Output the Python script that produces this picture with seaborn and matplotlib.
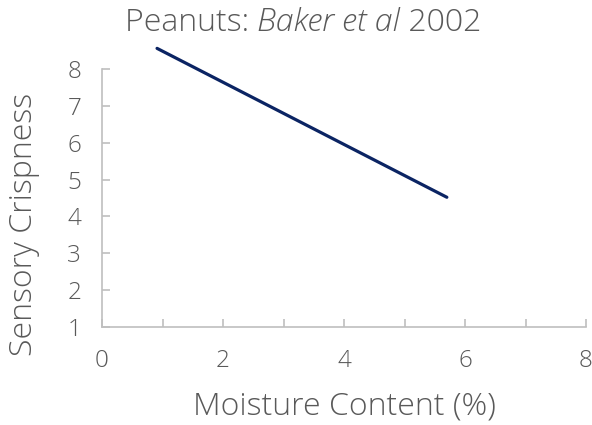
import matplotlib
matplotlib.use("Agg")
import matplotlib.pyplot as plt
from matplotlib.ticker import MultipleLocator
import seaborn as sns
import pandas as pd

# Fitted crispness trend against moisture content
moisture = [0.91, 5.70]
crispness = [8.56, 4.52]

x_ticks = [0, 2, 4, 6, 8]
y_ticks = [1, 2, 3, 4, 5, 6, 7, 8]

title_plain = "Peanuts: "
title_italic = "Baker et al"
title_year = " 2002"
x_label = "Moisture Content (%)"
y_label = "Sensory Crispness"

sns.set_style("white")
plt.rcParams["font.family"] = ["Open Sans", "DejaVu Sans"]
plt.rcParams["font.weight"] = "light"

text_color = "#595959"
axis_color = "#BFBFBF"
line_color = "#0B2463"

W, H = 592, 425
fig = plt.figure(figsize=(W / 100, H / 100), dpi=100)
ax = fig.add_axes([102 / W, 1 - 327 / H, (586 - 102) / W, (327 - 69) / H])

df = pd.DataFrame({"moisture": moisture, "crispness": crispness})
sns.lineplot(data=df, x="moisture", y="crispness", ax=ax, color=line_color,
             linewidth=2.3, clip_on=False)

ax.set_xlim(0, 8)
ax.set_ylim(1, 8)
ax.set_xticks(x_ticks)
ax.xaxis.set_minor_locator(MultipleLocator(1))
ax.set_yticks(y_ticks)

for side in ["top", "right"]:
    ax.spines[side].set_visible(False)
for side in ["left", "bottom"]:
    ax.spines[side].set_color(axis_color)
    ax.spines[side].set_linewidth(1.2)

ax.tick_params(axis="both", which="both", direction="in", color=axis_color,
               width=1.2, length=6, labelcolor=text_color, labelsize=17.5,
               bottom=True, left=True)
ax.tick_params(axis="x", which="both", pad=16)
ax.tick_params(axis="y", which="both", pad=15)
ax.set_xlabel("")
ax.set_ylabel("")

# Axis titles
fig.text(344 / W, 1 - 415 / H, x_label, ha="center", va="baseline",
         fontsize=23, color=text_color)
fig.text(24 / W, 1 - 224 / H, y_label, ha="center", va="center", rotation=90,
         fontsize=23, color=text_color)

# Chart title with the authors in italics, centred as one line
size = 23
base = 1 - 31 / H
t1 = fig.text(0, base, title_plain, ha="left", va="baseline",
              fontsize=size, color=text_color)
t2 = fig.text(0, base, title_italic, ha="left", va="baseline",
              fontsize=size, color=text_color, style="italic")
t3 = fig.text(0, base, title_year, ha="left", va="baseline",
              fontsize=size, color=text_color)
fig.canvas.draw()
r = fig.canvas.get_renderer()
w1 = t1.get_window_extent(r).width
w2 = t2.get_window_extent(r).width
w3 = t3.get_window_extent(r).width
x0 = 303 - (w1 + w2 + w3) / 2
t1.set_x(x0 / W)
t2.set_x((x0 + w1) / W)
t3.set_x((x0 + w1 + w2) / W)

fig.savefig("out.png", dpi=100)
